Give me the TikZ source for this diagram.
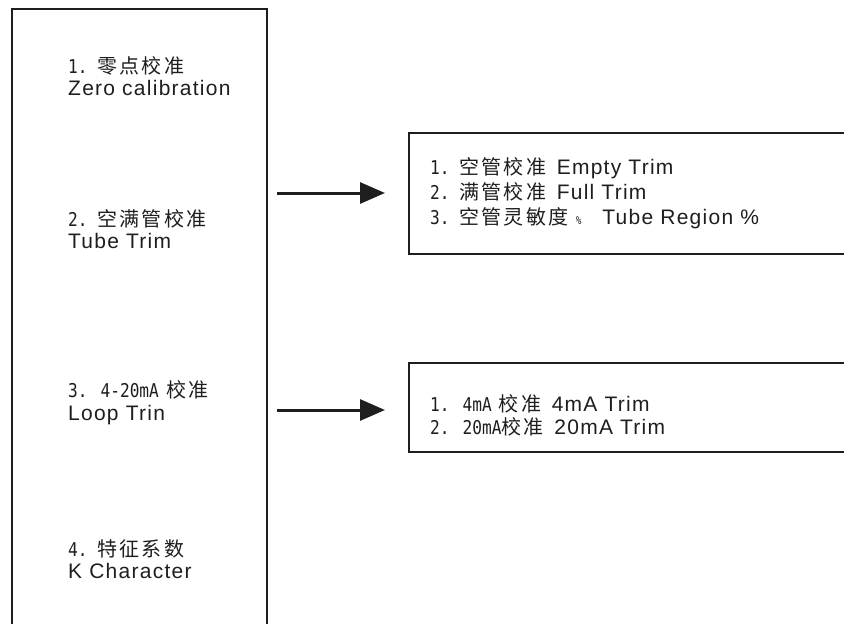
\documentclass[tikz,border=0pt]{standalone}
\usepackage{fontspec}
\setmainfont[LetterSpace=6]{Liberation Sans}
\newfontfamily\cjk[LetterSpace=12]{Noto Sans CJK SC}
\newfontfamily\hw[FakeStretch=0.85]{DejaVu Sans Mono}
\usetikzlibrary{arrows.meta}
\definecolor{ink}{HTML}{1E1E1E}
\tikzset{
  frame/.style={draw=ink, line width=1.5pt},
  txt/.style={anchor=base west, inner sep=0pt, text=ink, font=\fontsize{21}{24}\selectfont},
  arr/.style={draw=ink, line width=3pt, -{Triangle[length=25pt,width=21pt]}}
}
\newcommand{\zh}[1]{{\cjk\fontsize{20}{24}\selectfont #1}}
\newcommand{\hn}[1]{{\hw\fontsize{19}{24}\selectfont #1}}
\begin{document}
\begin{tikzpicture}[x=1pt,y=-1pt]
\useasboundingbox (0,0) rectangle (844,624);
% left box (open bottom)
\draw[frame] (12,630) -- (12,9) -- (267,9) -- (267,630);
% right boxes (open right)
\draw[frame] (850,133) -- (409,133) -- (409,254) -- (850,254);
\draw[frame] (850,363) -- (409,363) -- (409,452) -- (850,452);
% left texts
\node[txt] (t1a) at (68,73) {\hn{1.} \zh{零点校准}};
\node[txt] (t1b) at (68,95) {Zero calibration};
\node[txt] (t2a) at (68,226) {\hn{2.} \zh{空满管校准}};
\node[txt] (t2b) at (68,248) {Tube Trim};
\node[txt] (t3a) at (68,397) {\hn{3. 4-20mA} \zh{校准}};
\node[txt] (t3b) at (68,420) {Loop Trin};
\node[txt] (t4a) at (68,556) {\hn{4.} \zh{特征系数}};
\node[txt] (t4b) at (68,578) {K Character};
% right texts
\node[txt] (r1) at (430,174) {\hn{1.} \zh{空管校准}\enspace Empty Trim};
\node[txt] (r2) at (430,199) {\hn{2.} \zh{满管校准}\enspace Full Trim};
\node[txt] (r3) at (430,224) {\hn{3.} \zh{空管灵敏度} {\hw\fontsize{11}{11}\selectfont\%}\quad Tube Region \%};
\node[txt] (s1) at (430,411) {\hn{1. 4mA} \zh{校准}\enspace 4mA Trim};
\node[txt] (s2) at (430,434) {\hn{2. 20mA}\zh{校准}\enspace 20mA Trim};
% arrows
\coordinate (a1s) at (277,193);
\coordinate (a1e) at (385,193);
\coordinate (a2s) at (277,410);
\coordinate (a2e) at (385,410);
\draw[arr] (a1s) -- (a1e);
\draw[arr] (a2s) -- (a2e);
\end{tikzpicture}
\end{document}
